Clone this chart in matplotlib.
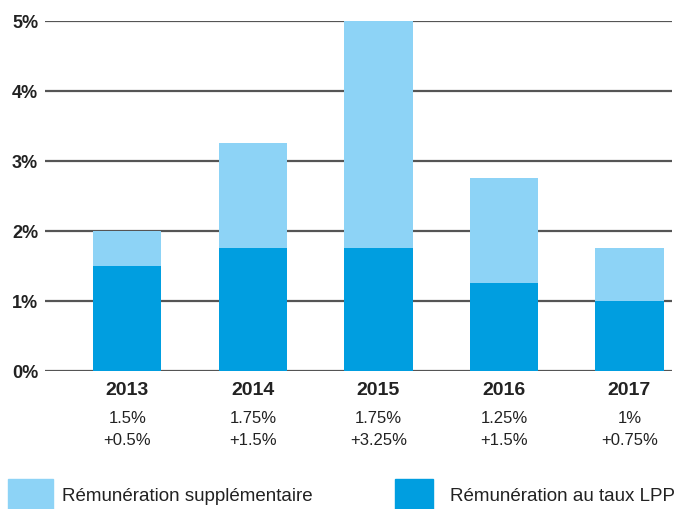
import matplotlib
matplotlib.use("Agg")
import matplotlib.pyplot as plt
from matplotlib.patches import Rectangle

plt.rcParams['font.family'] = ['Liberation Sans', 'DejaVu Sans']

years = ["2013", "2014", "2015", "2016", "2017"]
lpp = [1.5, 1.75, 1.75, 1.25, 1.0]
extra = [0.5, 1.5, 3.25, 1.5, 0.75]
lpp_labels = ["1.5%", "1.75%", "1.75%", "1.25%", "1%"]
extra_labels = ["+0.5%", "+1.5%", "+3.25%", "+1.5%", "+0.75%"]
yticks = [0, 1, 2, 3, 4, 5]
ytick_labels = ["0%", "1%", "2%", "3%", "4%", "5%"]

c_dark = "#009EE0"
c_light = "#8DD3F6"

fig = plt.figure(figsize=(6.78, 5.10), dpi=100)
ax = fig.add_axes([0.0664, 0.2706, 0.925, 0.6863])
x = list(range(len(years)))
ax.set_axisbelow(True)
ax.bar(x, lpp, width=0.545, color=c_dark, zorder=2)
ax.bar(x, extra, bottom=lpp, width=0.545, color=c_light, zorder=2)
ax.set_ylim(0, 5)
ax.set_xlim(-0.655, 4.34)
ax.set_yticks(yticks)
ax.set_yticklabels(ytick_labels, fontsize=13, fontweight='bold', color='#222222')
ax.yaxis.grid(True, color='#555555', linewidth=1.6, zorder=1)
ax.tick_params(axis='y', length=0, pad=5)
ax.set_xticks([])
for s in ax.spines.values():
    s.set_visible(False)

for i in x:
    ax.text(i, -0.26, years[i], ha='center', va='center', fontsize=14, fontweight='bold', color='#222222')
    ax.text(i, -0.66, lpp_labels[i], ha='center', va='center', fontsize=12, color='#222222')
    ax.text(i, -0.98, extra_labels[i], ha='center', va='center', fontsize=12, color='#222222')

fig.patches.append(Rectangle((8/678, 0), 45/678, 30/510, transform=fig.transFigure, color=c_light))
fig.text(62/678, 1-497/510, "Rémunération supplémentaire", fontsize=13.5, va='center', ha='left', color='#222222')
fig.patches.append(Rectangle((395/678, 0), 38/678, 30/510, transform=fig.transFigure, color=c_dark))
fig.text(450/678, 1-497/510, "Rémunération au taux LPP", fontsize=13.5, va='center', ha='left', color='#222222')

fig.savefig("out.png", dpi=100)
